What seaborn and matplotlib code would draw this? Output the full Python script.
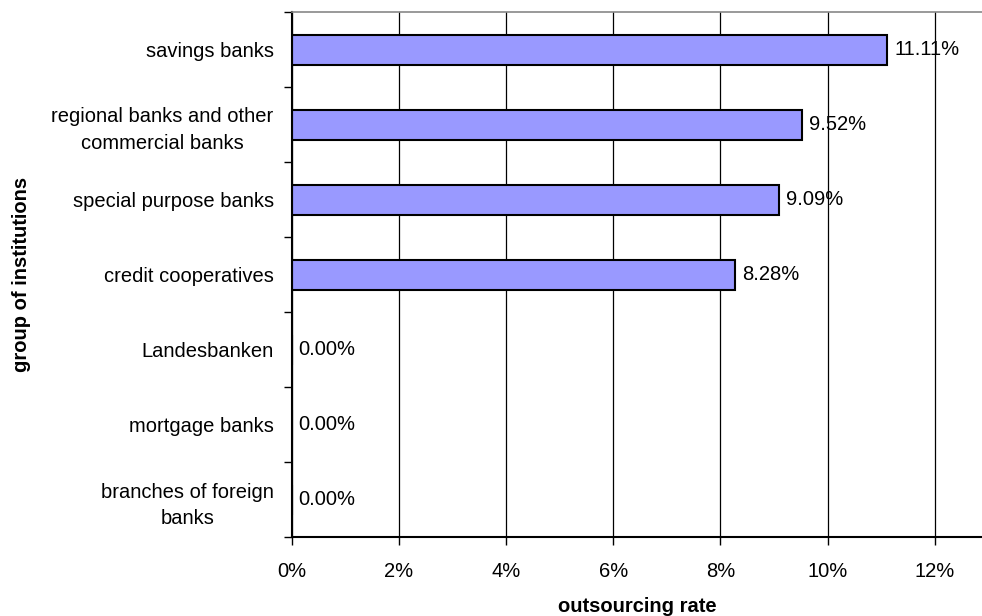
import matplotlib
matplotlib.use("Agg")
import matplotlib.pyplot as plt
import seaborn as sns
import pandas as pd
from matplotlib.ticker import FuncFormatter, FixedLocator

categories = [
    "savings banks",
    "regional banks and other\ncommercial banks",
    "special purpose banks",
    "credit cooperatives",
    "Landesbanken",
    "mortgage banks",
    "branches of foreign\nbanks",
]
rates = [11.11, 9.52, 9.09, 8.28, 0.00, 0.00, 0.00]
x_ticks = [0, 2, 4, 6, 8, 10, 12]

df = pd.DataFrame({"group": categories, "rate": rates})

sns.set_style("white")
plt.rcParams["font.family"] = ["Liberation Sans", "DejaVu Sans"]
plt.rcParams["text.color"] = "black"
plt.rcParams["axes.labelcolor"] = "black"
plt.rcParams["xtick.color"] = "black"
plt.rcParams["ytick.color"] = "black"
FS = 14.5

fig = plt.figure(figsize=(9.82, 6.16), dpi=100)
ax = fig.add_axes([291.7 / 982, 79 / 616, 1 - 291.7 / 982, 525 / 616])

sns.barplot(data=df, x="rate", y="group", orient="h", color="#9999FF",
            edgecolor="black", linewidth=1.5, width=0.4, saturation=1, ax=ax)

ax.set_xlim(0, 12.88)
ax.set_ylim(len(categories) - 0.5, -0.5)
ax.set_axisbelow(True)
ax.xaxis.set_major_locator(FixedLocator(x_ticks))
ax.xaxis.set_major_formatter(FuncFormatter(lambda v, p: f"{v:.0f}%"))
ax.grid(axis="x", color="black", linewidth=0.9)
ax.grid(axis="y", visible=False)

# category boundaries as minor ticks
ax.yaxis.set_minor_locator(FixedLocator([i - 0.5 for i in range(len(categories) + 1)]))
ax.tick_params(axis="y", which="major", length=0, pad=13, labelsize=FS, labelcolor="black")
ax.tick_params(axis="y", which="minor", length=6, width=1, color="black", left=True)
ax.tick_params(axis="x", which="major", length=6, width=1, color="black", bottom=True,
               pad=12, labelsize=FS, labelcolor="black")
for lab in ax.get_yticklabels():
    lab.set_multialignment("center")
    lab.set_linespacing(1.5)

ax.spines["right"].set_visible(False)
ax.spines["top"].set_color("#888888")
ax.spines["top"].set_linewidth(1.2)
ax.spines["left"].set_color("black")
ax.spines["left"].set_linewidth(1.5)
ax.spines["bottom"].set_color("black")
ax.spines["bottom"].set_linewidth(1.5)

for cont in ax.containers:
    ax.bar_label(cont, labels=[f"{v:.2f}%" for v in rates], padding=5,
                 fontsize=FS, color="black")

ax.set_xlabel("outsourcing rate", fontsize=FS, fontweight="bold", color="black")
ax.set_ylabel("group of institutions", fontsize=FS, fontweight="bold", color="black")
ax.xaxis.set_label_coords(0.5, -0.114)
ax.yaxis.set_label_coords(-0.378, 0.5)

fig.savefig("out.png", dpi=100, facecolor="white")
